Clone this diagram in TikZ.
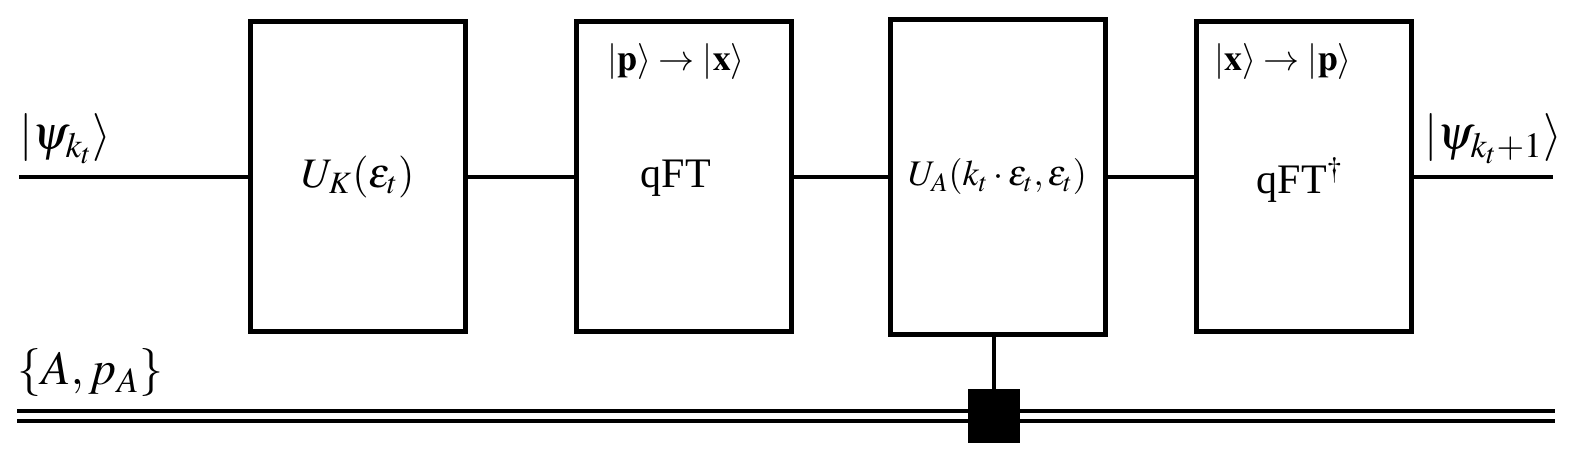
\documentclass[tikz,border=0pt]{standalone}
\usepackage{mathptmx}
\usepackage{fontspec}
\setmainfont{Liberation Serif}
\begin{document}
\begin{tikzpicture}[x=0.5pt,y=-0.5pt,
  gate/.style={draw, line width=2.5pt, minimum width=107.5pt, minimum height=155pt, inner sep=0pt, anchor=center, fill=white},
  wire/.style={line width=2.35pt},
  cwire/.style={line width=2.2pt},
  big/.style={inner sep=0pt, font=\fontsize{24}{28}\selectfont},
  mid/.style={inner sep=0pt, font=\fontsize{21}{25}\selectfont},
  small/.style={inner sep=0pt, font=\fontsize{18}{21}\selectfont},
  ctlbox/.style={fill=black, minimum width=26pt, minimum height=27pt, inner sep=0pt}]
\useasboundingbox (0,0) rectangle (1586,458);

% gates
\node[gate, font=\fontsize{21}{25}\selectfont] (u1) at (358,177) {$U_K(\varepsilon_t)$};
\node[gate] (u2) at (684,177) {};
\node[gate, minimum height=157.5pt, font=\fontsize{18}{21}\selectfont] (u3) at (997.5,177) {$U_A(k_t\cdot\varepsilon_t,\varepsilon_t)$};
\node[gate] (u4) at (1303.5,177) {};

% gate texts
\node[small] (t2a) at (676,62) {$|\mathbf{p}\rangle \rightarrow |\mathbf{x}\rangle$};
\node[mid] (t2b) at (676,178) {qFT};
\node[small] (t4a) at (1283,62) {$|\mathbf{x}\rangle \rightarrow |\mathbf{p}\rangle$};
\node[mid] (t4b) at (1300,180) {qFT$^\dagger$};

% quantum wire
\coordinate (qin) at (19,177);
\coordinate (qout) at (1553,177);
\draw[wire] (qin) -- (u1.west);
\draw[wire] (u1.east) -- (u2.west);
\draw[wire] (u2.east) -- (u3.west);
\draw[wire] (u3.east) -- (u4.west);
\draw[wire] (u4.east) -- (qout);

% classical wire
\coordinate (cinA) at (17,411);
\coordinate (coutA) at (1555,411);
\coordinate (cinB) at (17,421);
\coordinate (coutB) at (1555,421);
\draw[cwire] (cinA) -- (coutA);
\draw[cwire] (cinB) -- (coutB);

% control
\node[ctlbox] (ctl) at (994,416) {};
\draw[wire] (u3.south -| ctl) -- (ctl.north);

% labels
\node[big, anchor=base west] (lin) at (19,150) {$|\psi_{k_t}\rangle$};
\node[big, anchor=base west] (lout) at (1424,150) {$|\psi_{k_t+1}\rangle$};
\node[big, anchor=base west] (lc) at (17,385) {$\{A,p_A\}$};
\end{tikzpicture}
\end{document}
